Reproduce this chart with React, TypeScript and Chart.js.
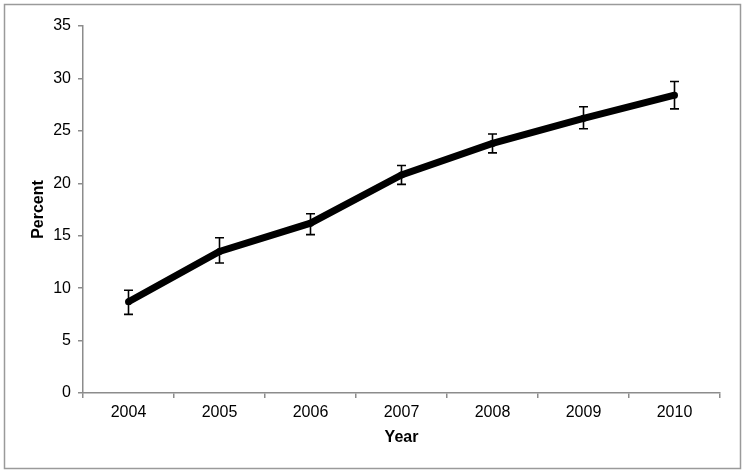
import React, { useEffect, useRef } from "react";
import { Chart, registerables } from "chart.js";

Chart.register(...registerables);

const years = ["2004", "2005", "2006", "2007", "2008", "2009", "2010"];
const percent = [8.7, 13.5, 16.2, 20.8, 23.8, 26.2, 28.4];
const errLow = [7.5, 12.4, 15.1, 19.9, 22.9, 25.2, 27.1];
const errHigh = [9.8, 14.8, 17.1, 21.7, 24.7, 27.3, 29.7];
const yTicks = [0, 5, 10, 15, 20, 25, 30, 35];

const FONT = "'Liberation Sans', Arial, sans-serif";

const frame = {
  id: "frame",
  beforeDraw(chart: any) {
    const ctx = chart.ctx;
    ctx.save();
    ctx.fillStyle = "#ffffff";
    ctx.fillRect(0, 0, chart.width, chart.height);
    ctx.strokeStyle = "#9a9a9a";
    ctx.lineWidth = 1.5;
    ctx.strokeRect(4.5, 4.5, chart.width - 9, chart.height - 10);
    ctx.restore();
  },
};

const errorBars = {
  id: "errorBars",
  afterDatasetsDraw(chart: any) {
    const ctx = chart.ctx;
    const xs = chart.scales.x;
    const ys = chart.scales.y;
    ctx.save();
    ctx.strokeStyle = "#000";
    ctx.lineWidth = 1.6;
    years.forEach((_, i) => {
      const x = xs.getPixelForValue(i);
      const yl = ys.getPixelForValue(errLow[i]);
      const yh = ys.getPixelForValue(errHigh[i]);
      ctx.beginPath();
      ctx.moveTo(x, yl);
      ctx.lineTo(x, yh);
      ctx.moveTo(x - 4.5, yl);
      ctx.lineTo(x + 4.5, yl);
      ctx.moveTo(x - 4.5, yh);
      ctx.lineTo(x + 4.5, yh);
      ctx.stroke();
    });
    ctx.restore();
  },
};

export default function App() {
  const ref = useRef<HTMLCanvasElement>(null);
  useEffect(() => {
    document.body.style.margin = "0";
    const chart = new Chart(ref.current as HTMLCanvasElement, {
      type: "line",
      data: {
        labels: years,
        datasets: [
          {
            data: percent,
            borderColor: "#000",
            backgroundColor: "#000",
            borderWidth: 7,
            pointRadius: 3.5,
            pointBackgroundColor: "#000",
            pointBorderWidth: 0,
            tension: 0,
          },
        ],
      },
      options: {
        responsive: false,
        animation: false,
        events: [],
        layout: { padding: { left: 0, right: 25, top: 26, bottom: 0 } },
        plugins: {
          legend: { display: false },
          tooltip: { enabled: false },
        },
        scales: {
          x: {
            type: "category",
            offset: true,
            afterFit: (s: any) => {
              s.height = 81;
            },
            grid: {
              offset: true,
              drawOnChartArea: false,
              drawTicks: true,
              tickLength: 5,
              color: "#8c8c8c",
              lineWidth: 1.5,
            },
            border: { color: "#8c8c8c", width: 1.5 },
            ticks: {
              color: "#000",
              font: { family: FONT, size: 16 },
              padding: 5,
              maxRotation: 0,
            },
            title: {
              display: true,
              text: "Year",
              color: "#000",
              font: { family: FONT, size: 16, weight: "bold" },
              padding: { top: 0, bottom: 27 },
            },
          },
          y: {
            min: 0,
            max: 35,
            afterFit: (s: any) => {
              s.width = 83;
            },
            afterBuildTicks: (s: any) => {
              s.ticks = yTicks.map((v) => ({ value: v }));
            },
            grid: {
              drawOnChartArea: false,
              drawTicks: true,
              tickLength: 5,
              color: "#8c8c8c",
              lineWidth: 1.5,
            },
            border: { color: "#8c8c8c", width: 1.5 },
            ticks: {
              color: "#000",
              font: { family: FONT, size: 16 },
              padding: 7,
            },
            title: {
              display: true,
              text: "Percent",
              color: "#000",
              font: { family: FONT, size: 16, weight: "bold" },
              padding: { top: 29, bottom: 0 },
            },
          },
        },
      },
      plugins: [frame, errorBars],
    } as any);
    return () => chart.destroy();
  }, []);
  return <canvas ref={ref} width={745} height={474} style={{ display: "block" }} />;
}
